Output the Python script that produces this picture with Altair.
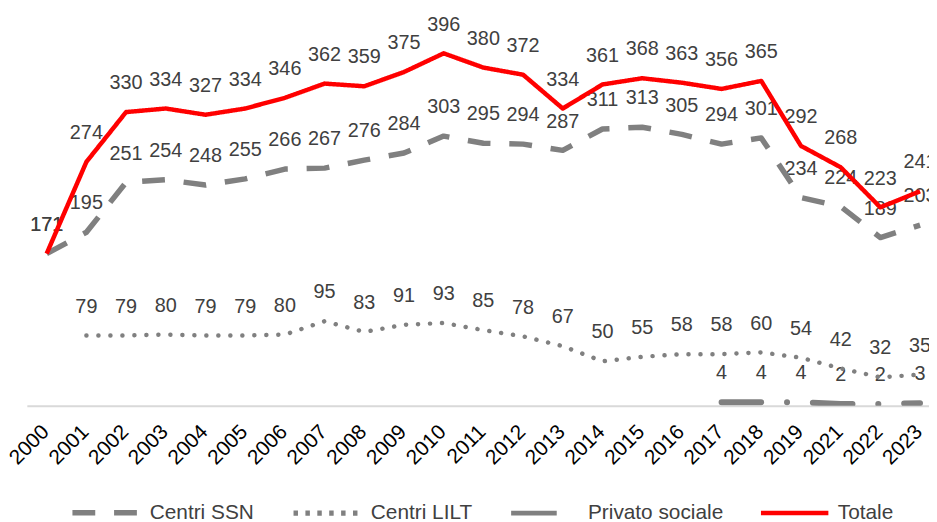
import altair as alt
import pandas as pd

years = ["2000", "2001", "2002", "2003", "2004", "2005", "2006", "2007", "2008", "2009",
         "2010", "2011", "2012", "2013", "2014", "2015", "2016", "2017", "2018", "2019",
         "2021", "2022", "2023"]
centri_ssn = [171, 195, 251, 254, 248, 255, 266, 267, 276, 284, 303, 295, 294, 287, 311,
              313, 305, 294, 301, 234, 224, 189, 203]
centri_lilt = [None, 79, 79, 80, 79, 79, 80, 95, 83, 91, 93, 85, 78, 67, 50, 55, 58, 58,
               60, 54, 42, 32, 35]
privato_sociale = [None] * 17 + [4, 4, 4, 2, 2, 3]
totale = [171, 274, 330, 334, 327, 334, 346, 362, 359, 375, 396, 380, 372, 334, 361, 368,
          363, 356, 365, 292, 268, 223, 241]

series_names = ["Centri SSN", "Centri LILT", "Privato sociale", "Totale"]
series_values = [centri_ssn, centri_lilt, privato_sociale, totale]
series_colors = ["#808080", "#808080", "#808080", "#FF0000"]
legend_dash = [[23, 19], [4.5, 7.5], [46, 22, 4, 22], [1, 0]]
series_width = [5.5, 4.5, 6, 5]
lilt_dash = [0.1, 12]
privato_dash = [40, 26, 0.1, 26]

rows = []
for name, vals in zip(series_names, series_values):
    for y, v in zip(years, vals):
        if v is not None:
            rows.append({"year": y, "value": v, "series": name})
df = pd.DataFrame(rows)

x_enc = alt.X("year:O", sort=years,
              scale=alt.Scale(type="point", range=[0, 921], padding=0.5),
              axis=alt.Axis(title=None, labelAngle=-45, labelFontSize=21,
                            labelFont="Liberation Sans", labelColor="#000000",
                            ticks=False, domainColor="#D9D9D9", domainWidth=2,
                            labelPadding=15, labelOffset=-9, grid=False))
y_enc = alt.Y("value:Q", scale=alt.Scale(domain=[0, 440]), axis=None)

lg = alt.Legend(title=None, orient="none", legendX=43, legendY=466,
                direction="horizontal", symbolType="stroke", symbolSize=4624,
                labelFontSize=21, labelFont="Liberation Sans", labelColor="#404040",
                labelOffset=7, columnPadding=28)

main_lines = alt.Chart(df).transform_filter(
    alt.FieldOneOfPredicate(field="series", oneOf=["Centri SSN", "Totale"])
).mark_line(strokeJoin="round", clip=True).encode(
    x=x_enc,
    y=y_enc,
    color=alt.Color("series:N", sort=series_names,
                    scale=alt.Scale(domain=series_names, range=series_colors), legend=lg),
    strokeDash=alt.StrokeDash("series:N", sort=series_names,
                              scale=alt.Scale(domain=series_names, range=legend_dash), legend=lg),
    strokeWidth=alt.StrokeWidth("series:N", sort=series_names,
                                scale=alt.Scale(domain=series_names, range=series_width), legend=lg),
)

lilt_line = alt.Chart(df).transform_filter(
    alt.datum.series == "Centri LILT"
).mark_line(strokeCap="round", strokeJoin="round", clip=True).encode(
    x=x_enc, y=y_enc,
    color=alt.value("#808080"),
    strokeDash=alt.value(lilt_dash),
    strokeWidth=alt.value(4.5),
)

privato_line = alt.Chart(df).transform_filter(
    alt.datum.series == "Privato sociale"
).mark_line(strokeCap="round", strokeJoin="round", clip=True).encode(
    x=x_enc, y=y_enc,
    color=alt.value("#808080"),
    strokeDash=alt.value(privato_dash),
    strokeWidth=alt.value(6),
)

labels = alt.Chart(df).mark_text(fontSize=20, font="Liberation Sans", color="#404040",
                                 baseline="middle", dy=-29, clip=True).encode(
    x=x_enc, y=y_enc, text=alt.Text("value:Q")
)

chart = alt.layer(labels, lilt_line, privato_line, main_lines).properties(
    width=910, height=395,
    autosize=alt.AutoSizeParams(type="none"),
    padding={"left": 19, "top": 4, "right": 0, "bottom": 115},
).configure_view(stroke=None)

chart.save("out.html", embed_options={"renderer": "svg", "actions": False})
